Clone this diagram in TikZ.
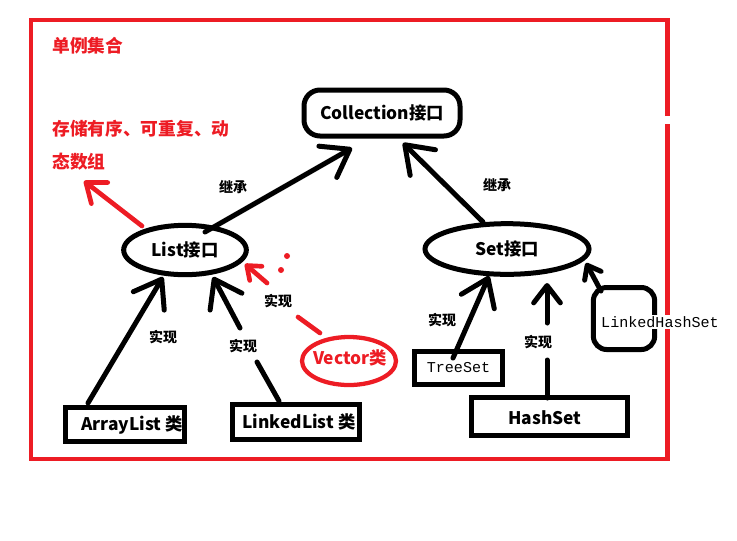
\documentclass[tikz,border=0pt]{standalone}
\usepackage{fontspec}
\setmainfont{Noto Sans CJK SC}
\newfontfamily\monof{Liberation Mono}
\usetikzlibrary{arrows.meta,shapes.geometric}
\definecolor{myred}{RGB}{237,28,36}
\begin{document}
\begin{tikzpicture}[x=0.75pt,y=-0.75pt,
  every node/.style={inner sep=0pt},
  big/.style={font=\fontsize{13}{15}\selectfont\bfseries},
  redtxt/.style={font=\fontsize{13.3}{15}\selectfont\bfseries, text=myred, anchor=west},
  lbl/.style={font=\fontsize{10.5}{12}\selectfont\bfseries},
  mono/.style={font=\fontsize{11.3}{13}\selectfont\monof},
  bline/.style={line width=3.75pt, line cap=round, line join=round},
  rline/.style={line width=3.5pt, draw=myred, line cap=round, line join=round},
  barb/.style={-{Straight Barb[round,length=19pt,width=27pt]}},
  sbarb/.style={-{Straight Barb[round,length=13pt,width=20pt]}},
  tbarb/.style={-{Straight Barb[round,length=9pt,width=14pt]}},
  boxs/.style={draw, line width=3.75pt, rectangle},
]
\useasboundingbox (0,0) rectangle (737,540);

% red frame with small gap on right edge
\draw[draw=myred, line width=3.2pt] (667.5,116) -- (667.5,20) -- (31,20) -- (31,459) -- (667.5,459) -- (667.5,124);

% texts in red
\node[redtxt] (title) at (52,46) {单例集合};
\node[redtxt] (desc1) at (52,129) {存储有序、可重复、动};
\node[redtxt] (desc2) at (52,162) {态数组};

% main nodes
\node[boxs, rounded corners=12pt, minimum width=117pt, minimum height=34.5pt, big] (coll) at (382,113) {Collection接口};
\node[draw, ellipse, line width=3.75pt, minimum width=92pt, minimum height=37pt, big] (list) at (185,250) {List接口};
\node[draw, ellipse, line width=3.75pt, minimum width=123pt, minimum height=38pt, big] (set) at (507,249) {Set接口};

\node[boxs, minimum width=89pt, minimum height=25.5pt] (alb) at (125,424.5) {};
\node[big] (al) at (132,425) {ArrayList 类};
\node[boxs, minimum width=95pt, minimum height=26pt] (llb) at (296,422) {};
\node[big] (ll) at (299,422) {LinkedList 类};
\node[draw=myred, ellipse, line width=3.2pt, minimum width=70.5pt, minimum height=36pt] (vecb) at (349,361) {};
\node[big, text=myred] (vec) at (350,358) {Vector类};

\node[boxs, minimum width=66pt, minimum height=25pt, mono] (tree) at (458.5,368) {TreeSet};
\node[boxs, minimum width=117pt, minimum height=28.5pt] (hsb) at (549.5,416.5) {};
\node[big] (hs) at (545,418) {HashSet};
\node[boxs, rounded corners=10pt, minimum width=46pt, minimum height=46.5pt] (lhsb) at (624,318.5) {};
\node[mono, fill=white, inner sep=1pt] (lhs) at (660,322) {LinkedHashSet};

% connector end points
\coordinate (a1s) at (205,232); \coordinate (a1e) at (352,148);
\coordinate (a2s) at (483,222); \coordinate (a2e) at (403,143);
\coordinate (a3s) at (88,403);  \coordinate (a3e) at (163,277);
\coordinate (a4s) at (279,401); \coordinate (a4m) at (257,362);
\coordinate (a4n) at (240,328); \coordinate (a4e) at (213,277);
\coordinate (a5s) at (547,398); \coordinate (a5m) at (547,360);
\coordinate (a5n) at (547,323); \coordinate (a5e) at (547,283);
\coordinate (a6s) at (453,358); \coordinate (a6e) at (489,276);
\coordinate (a7s) at (601,291); \coordinate (a7e) at (586,263);
\coordinate (r1s) at (142,226); \coordinate (r1e) at (84,181);
\coordinate (r2s) at (320,333); \coordinate (r2m) at (298,317);
\coordinate (r2n) at (267,283); \coordinate (r2e) at (245,264);

% black arrows
\draw[bline, barb] (a1s) -- (a1e);
\draw[bline, barb] (a2s) -- (a2e);
\draw[bline, barb] (a3s) -- (a3e);
\draw[bline] (a4s) -- (a4m);
\draw[bline, barb] (a4n) -- (a4e);
\draw[bline] (a5s) -- (a5m);
\draw[bline, sbarb] (a5n) -- (a5e);
\draw[bline, barb] (a6s) -- (a6e);
\draw[bline, tbarb] (a7s) -- (a7e);

% red arrows
\draw[rline, sbarb] (r1s) -- (r1e);
\draw[rline] (r2s) -- (r2m);
\draw[rline, tbarb] (r2n) -- (r2e);
\fill[myred] (287,256) circle[radius=3];
\fill[myred] (281,270) circle[radius=3];

% labels
\node[lbl] (j1) at (233,187) {继承};
\node[lbl] (j2) at (497,185) {继承};
\node[lbl] (s1) at (163,337) {实现};
\node[lbl] (s2) at (243,346) {实现};
\node[lbl] (s3) at (278,301) {实现};
\node[lbl] (s4) at (442,320) {实现};
\node[lbl] (s5) at (538,342) {实现};
\end{tikzpicture}
\end{document}
